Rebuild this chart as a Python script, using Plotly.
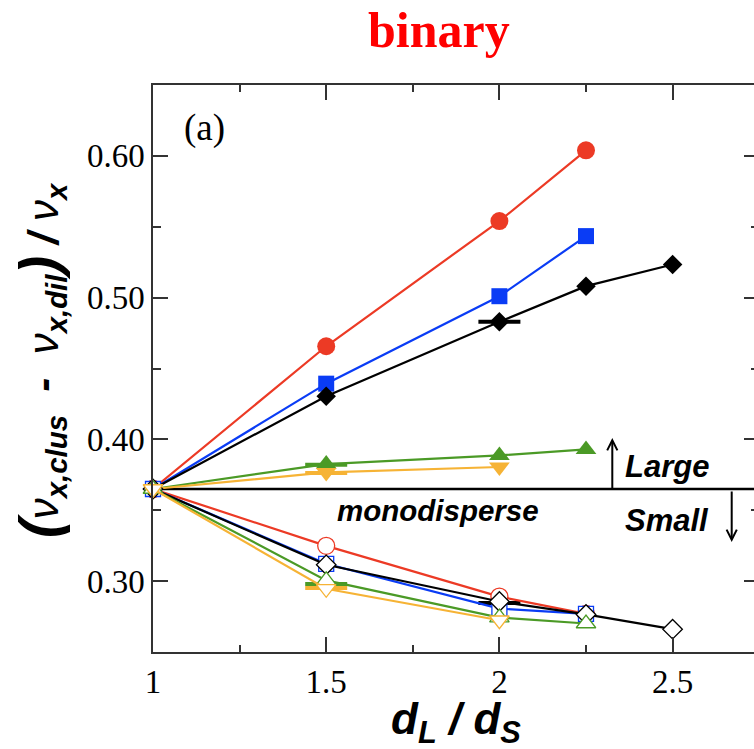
import plotly.graph_objects as go

# ---------------- data ----------------
x_red = [1, 1.5, 2, 2.25]
y_red_large = [0.365, 0.4657, 0.5540, 0.6039]
y_red_small = [0.365, 0.3249, 0.2891, 0.2769]

x_blue = [1, 1.5, 2, 2.25]
y_blue_large = [0.365, 0.4393, 0.5010, 0.5434]
y_blue_small = [0.365, 0.3122, 0.2806, 0.2769]

x_black = [1, 1.5, 2, 2.25, 2.5]
y_black_large = [0.365, 0.4304, 0.4829, 0.5081, 0.5234]
y_black_small = [0.365, 0.3115, 0.2856, 0.2765, 0.2661]

x_green = [1, 1.5, 2, 2.25]
y_green_large = [0.365, 0.3826, 0.3887, 0.3929]
y_green_small = [0.365, 0.3005, 0.2743, 0.2701]

x_orange = [1, 1.5, 2]
y_orange_large = [0.365, 0.3767, 0.3805]
y_orange_small = [0.365, 0.2946, 0.2724]

# short horizontal reference bars
bar_x = [1.5, 1.5, 1.5, 1.5, 2, 2]
bar_y = [0.3821, 0.3763, 0.2979, 0.2951, 0.2845, 0.4829]
bar_c = ["green", "orange", "green", "orange", "black", "black"]

mono_y = 0.365

x_ticks = [1, 1.5, 2, 2.5]
x_ticktext = ["1", "1.5", "2", "2.5"]
y_ticks = [0.30, 0.40, 0.50, 0.60]
y_ticktext = ["0.30", "0.40", "0.50", "0.60"]

colors = {"red": "#ec3a25", "blue": "#0a3cf5", "black": "#000000",
          "green": "#4b9a26", "orange": "#f6b335"}

# ---------------- figure ----------------
W, H = 754, 749
L, T, B = 153, 85, 97
X_MAX = 2.735
Y_RANGE = [0.25, 0.65]

fig = go.Figure()

# monodisperse line
fig.add_trace(go.Scatter(x=[1, X_MAX], y=[mono_y, mono_y], mode="lines",
                         line=dict(color="black", width=2.5), showlegend=False,
                         hoverinfo="skip"))

# bars
for bx, by, bc in zip(bar_x, bar_y, bar_c):
    fig.add_trace(go.Scatter(x=[bx], y=[by], mode="markers", showlegend=False,
                             marker=dict(symbol="line-ew", size=30,
                                         line=dict(color=colors[bc], width=4)),
                             cliponaxis=False))

large = [
    (x_red, y_red_large, "red", "circle", 18),
    (x_blue, y_blue_large, "blue", "square", 16),
    (x_black, y_black_large, "black", "diamond", 15),
    (x_green, y_green_large, "green", "triangle-up", 18),
    (x_orange, y_orange_large, "orange", "triangle-down", 18),
]
small = [
    (x_red, y_red_small, "red", "circle", 17),
    (x_blue, y_blue_small, "blue", "square", 15),
    (x_black, y_black_small, "black", "diamond", 15),
    (x_green, y_green_small, "green", "triangle-up", 17),
    (x_orange, y_orange_small, "orange", "triangle-down", 17),
]

for xs, ys, c, sym, sz in large:
    fig.add_trace(go.Scatter(x=xs, y=ys, mode="lines+markers", showlegend=False,
                             line=dict(color=colors[c], width=2.2),
                             marker=dict(symbol=sym, size=sz, color=colors[c],
                                         line=dict(width=0)),
                             cliponaxis=False))
for xs, ys, c, sym, sz in small:
    fig.add_trace(go.Scatter(x=xs, y=ys, mode="lines+markers", showlegend=False,
                             line=dict(color=colors[c], width=2.2),
                             marker=dict(symbol=sym, size=sz, color="white",
                                         line=dict(width=1.3, color=colors[c])),
                             cliponaxis=False))

# dummy trace for right axis ticks
fig.add_trace(go.Scatter(x=[1], y=[0.4], yaxis="y2", mode="markers",
                         marker=dict(opacity=0), showlegend=False, hoverinfo="skip"))

axis_col = "#333333"
serif = "Liberation Serif, Times New Roman, serif"
tickfont = dict(family=serif, size=33, color="black")

fig.update_layout(
    width=W, height=H,
    margin=dict(l=L, r=0, t=T, b=B, pad=0),
    paper_bgcolor="white", plot_bgcolor="white",
    xaxis=dict(range=[1, X_MAX], showline=True, linecolor=axis_col, linewidth=1.5,
               mirror="ticks", ticks="inside", ticklen=15, tickwidth=1.5,
               tickcolor=axis_col, tickvals=x_ticks, ticktext=x_ticktext,
               tickfont=tickfont, showgrid=False, zeroline=False,
               minor=dict(ticks="inside", ticklen=7, tickwidth=1.5,
                          tickcolor=axis_col, dtick=0.25, tick0=1, showgrid=False)),
    yaxis=dict(range=Y_RANGE, showline=True, linecolor=axis_col, linewidth=1.5,
               mirror=False, ticks="inside", ticklen=15, tickwidth=1.5,
               tickcolor=axis_col, tickvals=y_ticks, ticktext=y_ticktext,
               tickfont=tickfont, showgrid=False, zeroline=False,
               minor=dict(ticks="inside", ticklen=8, tickwidth=1.5,
                          tickcolor=axis_col, dtick=0.05, tick0=0.25, showgrid=False)),
    yaxis2=dict(range=Y_RANGE, overlaying="y", side="right", showline=False,
                ticks="inside", ticklen=10, tickwidth=1.5, tickcolor=axis_col,
                tickvals=y_ticks, showticklabels=False, showgrid=False, zeroline=False,
                minor=dict(ticks="inside", ticklen=3, tickwidth=1.5,
                           tickcolor=axis_col, dtick=0.05, tick0=0.25, showgrid=False)),
)

pw = W - L
ph = H - T - B


def px(xp):
    return (xp - L) / pw


def py(yp):
    return (H - B - yp) / ph


sans_bi = "Liberation Sans, Arial, sans-serif"
ann = []
ann.append(dict(x=px(439), y=py(30), xref="paper", yref="paper", text="<b>binary</b>",
                showarrow=False, font=dict(family=serif, size=50, color="#ff0000"),
                xanchor="center", yanchor="middle"))
ann.append(dict(x=px(204), y=py(128), xref="paper", yref="paper", text="(a)",
                showarrow=False, font=dict(family=serif, size=37, color="black"),
                xanchor="center", yanchor="middle"))
ann.append(dict(x=px(438), y=py(510), xref="paper", yref="paper",
                text="<b><i>monodisperse</i></b>", showarrow=False,
                font=dict(family=sans_bi, size=29.5, color="black"),
                xanchor="center", yanchor="middle"))
ann.append(dict(x=px(623), y=py(466), xref="paper", yref="paper",
                text="<b><i>Large</i></b>", showarrow=False,
                font=dict(family=sans_bi, size=31, color="black"),
                xanchor="left", yanchor="middle"))
ann.append(dict(x=px(623), y=py(520), xref="paper", yref="paper",
                text="<b><i>Small</i></b>", showarrow=False,
                font=dict(family=sans_bi, size=31, color="black"),
                xanchor="left", yanchor="middle"))
# arrows
ann.append(dict(x=px(612.3), y=py(438), ax=0, ay=52, xref="paper", yref="paper",
                axref="pixel", ayref="pixel", text="", showarrow=True, arrowhead=5,
                arrowsize=1, arrowwidth=2, arrowcolor="black"))
ann.append(dict(x=px(731.7), y=py(542), ax=0, ay=-52, xref="paper", yref="paper",
                axref="pixel", ayref="pixel", text="", showarrow=True, arrowhead=5,
                arrowsize=1, arrowwidth=2, arrowcolor="black"))
# axis titles
ann.append(dict(x=px(456), y=py(722), xref="paper", yref="paper",
                text="<b><i>d<sub>L</sub> / d<sub>S</sub></i></b>", showarrow=False,
                font=dict(family=sans_bi, size=44, color="black"),
                xanchor="center", yanchor="middle"))
ann.append(dict(x=px(40), y=py(360), xref="paper", yref="paper",
                text="<i><b><span style='font-size:56px'>(</span></b>ν<b><sub>x,clus</sub>  -  </b>ν<b><sub>x,dil</sub><span style='font-size:56px'>)</span> / </b>ν<b><sub>x</sub></b></i>",
                showarrow=False, textangle=-90,
                font=dict(family=sans_bi, size=42, color="black"),
                xanchor="center", yanchor="middle"))

fig.update_layout(annotations=ann)

fig.write_html("out.html")
